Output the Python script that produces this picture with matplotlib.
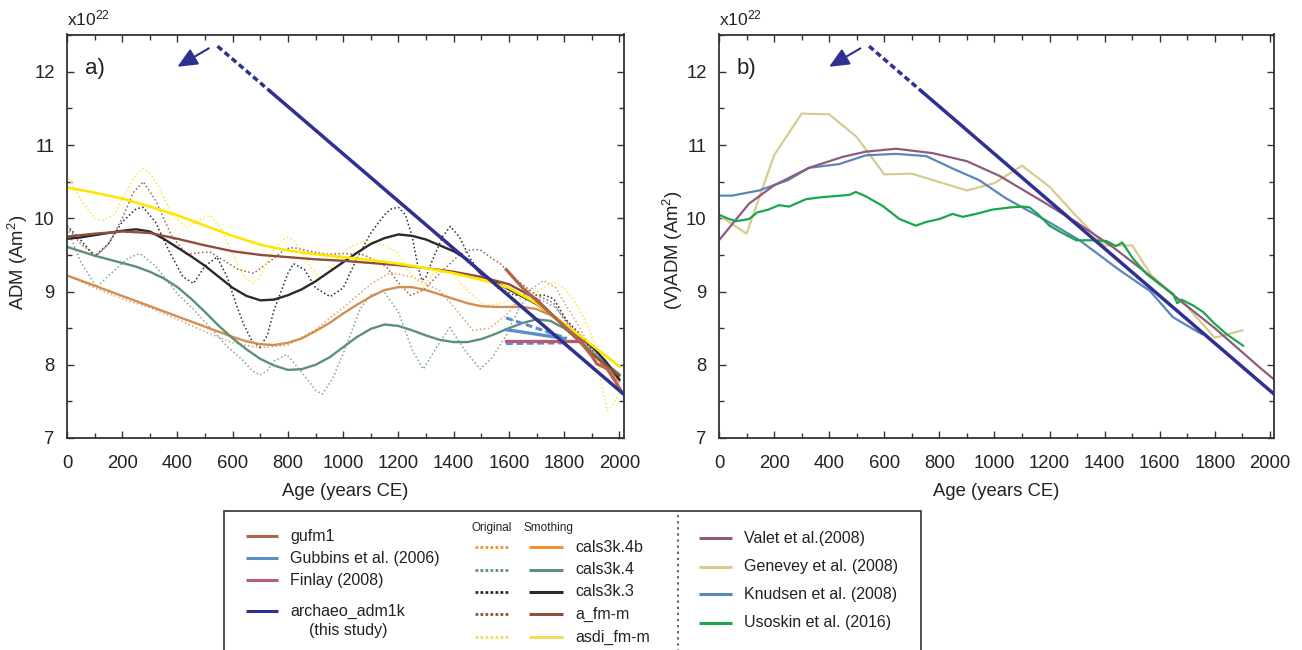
import matplotlib
matplotlib.use("Agg")
import matplotlib.pyplot as plt
from matplotlib.lines import Line2D
from matplotlib.patches import Rectangle, FancyArrowPatch
from matplotlib.ticker import MultipleLocator

plt.rcParams['font.family'] = ['Liberation Sans', 'DejaVu Sans']
plt.rcParams['mathtext.fontset'] = 'custom'
plt.rcParams['mathtext.rm'] = 'Liberation Sans'
plt.rcParams['mathtext.it'] = 'Liberation Sans:italic'

# ---------------- data (ADM in units of 1e22 Am^2, age in years CE) ----------------
# archaeo_adm1k trend
adm1k_age = [545, 740, 2015]
adm1k_val = [12.35, 11.72, 7.60]

# panel a: smoothed field-model curves
smooth_age = [0, 100, 200, 300, 400, 500, 600, 700, 800, 900, 1000,
              1100, 1200, 1300, 1400, 1500, 1600, 1700, 1800, 1900, 2000]
asdi_smooth = [10.42, 10.35, 10.27, 10.16, 10.04, 9.90, 9.76, 9.64, 9.56, 9.51, 9.47,
               9.43, 9.38, 9.32, 9.25, 9.16, 9.05, 8.84, 8.56, 8.27, 7.98]
afm_smooth = [9.75, 9.79, 9.82, 9.80, 9.72, 9.63, 9.55, 9.50, 9.47, 9.44, 9.42,
              9.39, 9.36, 9.32, 9.27, 9.20, 9.10, 8.90, 8.52, 8.15, 7.85]
half_age = [0, 50, 100, 150, 200, 250, 300, 350, 400, 450, 500, 550, 600, 650, 700,
            750, 800, 850, 900, 950, 1000, 1050, 1100, 1150, 1200, 1250, 1300, 1350,
            1400, 1450, 1500, 1550, 1600, 1650, 1700, 1750, 1800, 1850, 1900, 1950, 2000]
c4b_smooth = [9.22, 9.15, 9.08, 9.01, 8.94, 8.87, 8.80, 8.73, 8.66, 8.59, 8.52, 8.45, 8.38,
              8.32, 8.28, 8.27, 8.30, 8.36, 8.46, 8.57, 8.70, 8.82, 8.93, 9.02, 9.06, 9.06,
              9.02, 8.96, 8.90, 8.84, 8.80, 8.79, 8.79, 8.79, 8.76, 8.68, 8.55, 8.37, 8.17,
              7.97, 7.78]
c4_smooth = [9.61, 9.55, 9.49, 9.44, 9.39, 9.34, 9.27, 9.18, 9.06, 8.90, 8.72, 8.53, 8.36,
             8.21, 8.08, 7.99, 7.93, 7.94, 8.00, 8.10, 8.24, 8.38, 8.49, 8.55, 8.53, 8.47,
             8.40, 8.34, 8.31, 8.31, 8.35, 8.42, 8.50, 8.57, 8.62, 8.60, 8.50, 8.35, 8.17,
             8.02, 7.87]
c3_smooth = [9.72, 9.74, 9.77, 9.80, 9.83, 9.85, 9.82, 9.72, 9.60, 9.48, 9.35, 9.20, 9.05,
             8.94, 8.88, 8.89, 8.95, 9.03, 9.14, 9.27, 9.40, 9.53, 9.65, 9.73, 9.78, 9.76,
             9.71, 9.63, 9.55, 9.44, 9.24, 9.13, 9.03, 8.93, 8.83, 8.70, 8.55, 8.40, 8.25,
             8.05, 7.80]

# panel a: original (unsmoothed) curves
asdi_orig_age = [0, 50, 100, 130, 170, 220, 250, 276, 300, 330, 380, 433, 480, 518, 560,
                 590, 620, 650, 676, 700, 730, 765, 796, 820, 850, 885, 917, 950, 980, 1010,
                 1038, 1070, 1100, 1160, 1200, 1243, 1291, 1330, 1380, 1440, 1509, 1560,
                 1605, 1690, 1762, 1800, 1835, 1870, 1907, 1935, 1957, 1985, 2010]
asdi_orig = [10.59, 10.25, 10.00, 9.97, 10.05, 10.40, 10.60, 10.68, 10.62, 10.45, 10.05,
             9.87, 9.98, 10.04, 9.85, 9.60, 9.35, 9.17, 9.11, 9.20, 9.45, 9.65, 9.74, 9.70,
             9.55, 9.32, 9.19, 9.28, 9.45, 9.57, 9.63, 9.68, 9.69, 9.62, 9.52, 9.24, 9.06,
             9.25, 9.30, 9.05, 8.81, 8.83, 8.88, 8.97, 9.13, 9.05, 8.88, 8.65, 8.33, 7.75,
             7.37, 7.50, 7.68]
afm_orig_age = [0, 50, 107, 150, 200, 240, 276, 320, 380, 433, 480, 518, 570, 620, 676,
                730, 790, 820, 880, 942, 1000, 1074, 1120, 1158, 1200, 1243, 1290, 1350,
                1420, 1460, 1496, 1540, 1569, 1630, 1700, 1760, 1800, 1850, 1900, 1950, 2000]
afm_orig = [9.88, 9.65, 9.49, 9.65, 10.00, 10.35, 10.50, 10.25, 9.75, 9.51, 9.53, 9.54,
            9.42, 9.30, 9.25, 9.40, 9.58, 9.60, 9.55, 9.51, 9.52, 9.50, 9.42, 9.33, 9.12,
            8.95, 9.02, 9.25, 9.50, 9.57, 9.57, 9.45, 9.38, 9.15, 8.95, 8.85, 8.62, 8.40,
            8.15, 7.95, 7.70]
c3_orig_age = [0, 50, 100, 150, 200, 250, 276, 320, 370, 420, 458, 500, 543, 580, 610, 640,
               670, 699, 725, 750, 800, 820, 860, 900, 953, 1000, 1050, 1100, 1150, 1175,
               1200, 1225, 1250, 1270, 1285, 1300, 1320, 1360, 1388, 1420, 1460, 1500, 1560,
               1620, 1680, 1730, 1762, 1810, 1850, 1900, 1950, 2000]
c3_orig = [9.90, 9.70, 9.48, 9.65, 9.95, 10.13, 10.15, 9.95, 9.55, 9.20, 9.11, 9.35, 9.47,
           9.20, 8.85, 8.55, 8.32, 8.24, 8.40, 8.75, 9.25, 9.38, 9.30, 9.05, 8.93, 9.05,
           9.45, 9.80, 10.05, 10.13, 10.15, 10.05, 9.75, 9.35, 9.15, 9.20, 9.40, 9.75, 9.89,
           9.75, 9.45, 9.24, 9.05, 8.95, 8.95, 8.95, 8.90, 8.60, 8.45, 8.20, 8.00, 7.78]
c4_orig_age = [0, 50, 107, 160, 220, 264, 320, 400, 460, 518, 580, 640, 670, 699, 725, 750,
               796, 850, 900, 924, 960, 1000, 1062, 1100, 1146, 1200, 1250, 1290, 1340, 1386,
               1440, 1496, 1540, 1590, 1640, 1670, 1720, 1770, 1820, 1900, 1950, 2000]
c4_orig = [9.87, 9.40, 9.06, 9.25, 9.45, 9.52, 9.35, 8.97, 8.75, 8.51, 8.25, 8.05, 7.92,
           7.86, 7.92, 8.05, 8.14, 7.90, 7.65, 7.60, 7.80, 8.15, 8.77, 8.95, 9.01, 8.72,
           8.20, 7.94, 8.25, 8.51, 8.20, 7.94, 8.10, 8.40, 8.80, 8.92, 8.88, 8.78, 8.55,
           8.20, 8.00, 7.88]
c4b_orig_age = [0, 100, 216, 300, 400, 500, 600, 700, 800, 900, 1000, 1100, 1170, 1250,
                1351, 1420, 1470, 1530, 1593, 1650, 1726, 1770, 1800, 1850, 1900, 1950, 2000]
c4b_orig = [9.22, 9.05, 8.88, 8.78, 8.62, 8.45, 8.30, 8.23, 8.27, 8.48, 8.78, 9.10, 9.26,
            9.20, 9.01, 8.70, 8.47, 8.50, 8.69, 8.95, 9.15, 9.05, 8.85, 8.55, 8.20, 7.95, 7.75]

# historical models
gufm1_age = [1590, 1650, 1714, 1780, 1847, 1900, 1919, 1955, 1991, 2005]
gufm1_val = [9.30, 9.05, 8.83, 8.60, 8.37, 8.12, 8.01, 7.95, 7.74, 7.65]
gubbins_age = [1590, 1800]
gubbins_val = [8.48, 8.36]
gubbins_hi_age = [1590, 1810]
gubbins_hi_val = [8.64, 8.36]
gubbins_lo_age = [1590, 1810]
gubbins_lo_val = [8.29, 8.30]
finlay_age = [1590, 1870]
finlay_val = [8.32, 8.32]

# panel b: VADM reconstructions
valet_age = [0, 109, 200, 327, 450, 533, 643, 776, 900, 1018, 1188, 1300, 1429, 1550,
             1673, 1800, 1964, 2015]
valet_val = [9.70, 10.20, 10.45, 10.69, 10.84, 10.91, 10.95, 10.89, 10.78, 10.58, 10.20,
             9.94, 9.61, 9.26, 8.88, 8.50, 7.96, 7.80]
genevey_age = [0, 100, 200, 300, 400, 500, 600, 700, 900, 1000, 1100, 1200, 1290, 1400,
               1500, 1570, 1700, 1800, 1900]
genevey_val = [10.04, 9.79, 10.86, 11.43, 11.42, 11.11, 10.60, 10.61, 10.38, 10.48, 10.72,
               10.43, 10.06, 9.63, 9.63, 9.22, 8.79, 8.37, 8.47]
knudsen_age = [0, 48, 145, 250, 327, 436, 533, 643, 752, 848, 945, 1043, 1188, 1309, 1455,
               1564, 1648, 1752]
knudsen_val = [10.31, 10.31, 10.38, 10.52, 10.69, 10.74, 10.86, 10.88, 10.85, 10.68, 10.52,
               10.27, 9.97, 9.70, 9.29, 9.01, 8.65, 8.42]
usoskin_age = [0, 30, 61, 109, 139, 180, 218, 255, 315, 376, 412, 473, 497, 533, 594, 655,
               715, 752, 800, 848, 885, 933, 994, 1018, 1060, 1103, 1127, 1160, 1200, 1236,
               1297, 1350, 1406, 1442, 1464, 1503, 1552, 1600, 1648, 1664, 1679, 1721, 1758,
               1794, 1842, 1903]
usoskin_val = [10.05, 10.00, 9.96, 9.99, 10.08, 10.12, 10.18, 10.16, 10.26, 10.29, 10.30,
               10.32, 10.36, 10.30, 10.17, 9.99, 9.90, 9.95, 9.99, 10.06, 10.02, 10.06,
               10.12, 10.13, 10.15, 10.16, 10.15, 10.05, 9.90, 9.82, 9.70, 9.70, 9.69, 9.62,
               9.67, 9.45, 9.24, 9.10, 8.97, 8.84, 8.89, 8.81, 8.72, 8.58, 8.42, 8.26]

# ---------------- styling ----------------
NAVY = '#2e3192'
C_GUFM = '#b5634a'
C_GUB = '#5b8ec7'
C_FIN = '#b85a72'
C_4B = '#d48e50'
C_4B_DOT = '#dca070'
C_4 = '#5f8f79'
C_4_DOT = '#7fa694'
C_3 = '#2a2a2a'
C_AFM = '#8f4e3c'
C_AFM_DOT = '#9c6050'
C_ASDI = '#ffe600'
C_ASDI_DOT = '#ffe640'
C_VALET = '#8e5a7e'
C_GEN = '#d6cc92'
C_KNU = '#5a86b8'
C_USO = '#1aa64b'
SPINE = '#333333'

W, H = 1302, 650
fig = plt.figure(figsize=(W / 100, H / 100), dpi=100)


def fx(x):
    return x / W


def fy(y):
    return 1 - y / H


XMAX, YMIN, YMAX = 2015, 7, 12.51
ax_a = fig.add_axes([fx(67), fy(438), (623.5 - 67) / W, (438 - 34.5) / H])
ax_b = fig.add_axes([fx(719), fy(438), (1274 - 719) / W, (438 - 34.5) / H])

dot = (0, (1, 1.6))

for ax in (ax_a, ax_b):
    ax.set_xlim(0, XMAX)
    ax.set_ylim(YMIN, YMAX)
    ax.xaxis.set_major_locator(MultipleLocator(200))
    ax.xaxis.set_minor_locator(MultipleLocator(100))
    ax.yaxis.set_major_locator(MultipleLocator(1))
    ax.yaxis.set_minor_locator(MultipleLocator(0.5))
    ax.tick_params(which='both', direction='in', top=True, right=True,
                   color=SPINE, width=1.0, labelsize=13.3, labelcolor='#222222')
    ax.tick_params(which='major', length=5)
    ax.tick_params(which='minor', length=3.5)
    ax.tick_params(axis='x', which='major', pad=12)
    ax.tick_params(axis='y', which='major', pad=9)
    for s in ax.spines.values():
        s.set_color(SPINE)
        s.set_linewidth(1.3)

    # archaeo_adm1k: dashed where extrapolated, solid afterwards
    ax.plot(adm1k_age[:2], adm1k_val[:2], color=NAVY, lw=2.5,
            linestyle=(0, (1.7, 1.0)), solid_capstyle='butt', zorder=6)
    ax.plot(adm1k_age[1:], adm1k_val[1:], color=NAVY, lw=2.5, zorder=6)
    arr = FancyArrowPatch((522, 12.34), (391, 12.05),
                          arrowstyle='-|>,head_length=0.6,head_width=0.27',
                          mutation_scale=20, color=NAVY, lw=1.5, zorder=7)
    ax.add_patch(arr)
    ax.text(0, 12.60, r'x10$^{22}$', transform=ax.get_yaxis_transform(),
            fontsize=12.5, color='#222222', ha='left', va='bottom')

# ---------------- panel a ----------------
a = ax_a
a.plot(c4b_orig_age, c4b_orig, color=C_4B_DOT, lw=1.1, linestyle=dot)
a.plot(c4_orig_age, c4_orig, color=C_4_DOT, lw=1.1, linestyle=dot)
a.plot(c3_orig_age, c3_orig, color=C_3, lw=1.1, linestyle=dot)
a.plot(afm_orig_age, afm_orig, color=C_AFM_DOT, lw=1.1, linestyle=dot)
a.plot(asdi_orig_age, asdi_orig, color=C_ASDI_DOT, lw=1.1, linestyle=dot)

a.plot(half_age, c4b_smooth, color=C_4B, lw=1.7)
a.plot(half_age, c4_smooth, color=C_4, lw=1.7)
a.plot(half_age, c3_smooth, color=C_3, lw=1.7)
a.plot(smooth_age, afm_smooth, color=C_AFM, lw=1.7)
a.plot(smooth_age, asdi_smooth, color=C_ASDI, lw=1.9)

a.plot(gubbins_hi_age, gubbins_hi_val, color=C_GUB, lw=2.2, linestyle=(0, (2.2, 1.2)))
a.plot(gubbins_lo_age, gubbins_lo_val, color=C_GUB, lw=2.2, linestyle=(0, (2.2, 1.2)))
a.plot(finlay_age, finlay_val, color=C_FIN, lw=2.4)
a.plot(gubbins_age, gubbins_val, color=C_GUB, lw=2.4)
a.plot(gufm1_age, gufm1_val, color=C_GUFM, lw=2.3)
a.text(65, 12.05, 'a)', fontsize=16, color='#222222', va='center', ha='left')

# ---------------- panel b ----------------
b = ax_b
b.plot(genevey_age, genevey_val, color=C_GEN, lw=1.6)
b.plot(knudsen_age, knudsen_val, color=C_KNU, lw=1.6)
b.plot(valet_age, valet_val, color=C_VALET, lw=1.6)
b.plot(usoskin_age, usoskin_val, color=C_USO, lw=1.6)
b.text(62, 12.05, 'b)', fontsize=16, color='#222222', va='center', ha='left')

# axis labels
fig.text(fx(18), fy(262), r'ADM (Am$^2$)', rotation=90, ha='center', va='center',
         fontsize=13.3, color='#222222')
fig.text(fx(673), fy(250), r'(V)ADM (Am$^2$)', rotation=90, ha='center', va='center',
         fontsize=13.3, color='#222222')
fig.text(fx(345), fy(492), 'Age (years CE)', ha='center', va='center', fontsize=13.3,
         color='#222222')
fig.text(fx(996), fy(492), 'Age (years CE)', ha='center', va='center', fontsize=13.3,
         color='#222222')

# ---------------- legend ----------------
fig.add_artist(Rectangle((fx(224), fy(652)), fx(921) - fx(224), fy(511) - fy(652),
                         transform=fig.transFigure, fill=False, edgecolor=SPINE, lw=1.2))
fig.add_artist(Line2D([fx(678), fx(678)], [fy(515), fy(650)], transform=fig.transFigure,
                      color=SPINE, lw=1.1, linestyle=(0, (1.5, 2.5))))

LFS = 11.5


def swatch(x0, x1, y, color, ls='-', lw=2.2):
    fig.add_artist(Line2D([fx(x0), fx(x1)], [fy(y), fy(y)], transform=fig.transFigure,
                          color=color, lw=lw, linestyle=ls, solid_capstyle='butt'))


def ltext(x, y, s, **kw):
    fig.text(fx(x), fy(y), s, fontsize=kw.pop('fontsize', LFS), color='#222222',
             va='center', ha=kw.pop('ha', 'left'), **kw)


col1 = [('gufm1', C_GUFM, 536), ('Gubbins et al. (2006)', C_GUB, 558),
        ('Finlay (2008)', C_FIN, 580), ('archaeo_adm1k', NAVY, 611)]
for name, c, y in col1:
    swatch(246, 278, y, c)
    ltext(290, y, name)
ltext(348, 631, '(this study)', ha='center')

ltext(471, 528, 'Original', fontsize=8.5)
ltext(523, 528, 'Smothing', fontsize=8.5)
col2 = [('cals3k.4b', '#f0922e', 547), ('cals3k.4', C_4, 570), ('cals3k.3', C_3, 592),
        ('a_fm-m', C_AFM, 614), ('asdi_fm-m', '#f2dc5d', 637)]
for name, c, y in col2:
    swatch(475, 508, y, c, ls=(0, (1, 0.8)), lw=2.0)
    swatch(529, 563, y, c)
    ltext(575, y, name)

col3 = [('Valet et al.(2008)', C_VALET, 538), ('Genevey et al. (2008)', C_GEN, 567),
        ('Knudsen et al. (2008)', C_KNU, 594), ('Usoskin et al. (2016)', C_USO, 623)]
for name, c, y in col3:
    swatch(699, 732, y, c)
    ltext(744, y, name)

fig.savefig('out.png', dpi=100)
